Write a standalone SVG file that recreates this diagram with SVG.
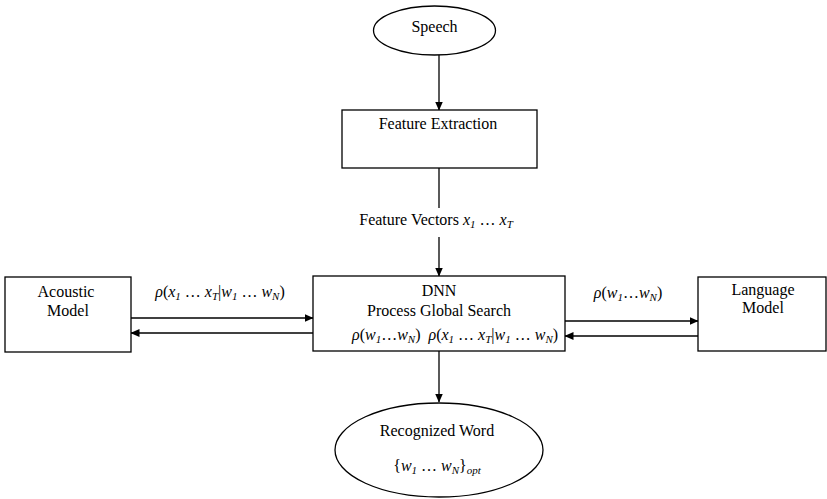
<svg xmlns="http://www.w3.org/2000/svg" width="827" height="499" viewBox="0 0 827 499">
  <style>
    .shape { fill: #ffffff; stroke: #000000; stroke-width: 1.3; }
    .edge { fill: none; stroke: #000000; stroke-width: 1.3; }
    .lbl { font-family: "Liberation Serif", "Times New Roman", serif; font-size: 16px; fill: #000000; text-anchor: middle; }
    .m { font-style: italic; }
    .s { font-size: 11px; font-style: italic; }
  </style>
  <defs>
    <marker id="arrow" markerWidth="9" markerHeight="8" refX="8.5" refY="4" orient="auto" markerUnits="userSpaceOnUse">
      <path d="M0,0 L9,4 L0,8 Z" fill="#000000"/>
    </marker>
  </defs>

  <rect width="827" height="499" fill="#ffffff"/>

  <!-- connectors -->
  <g id="connectors">
    <line class="edge" x1="439" y1="55" x2="439" y2="110" marker-end="url(#arrow)"/>
    <line class="edge" x1="439" y1="168" x2="439" y2="208"/>
    <line class="edge" x1="439" y1="237" x2="439" y2="276" marker-end="url(#arrow)"/>
    <line class="edge" x1="439" y1="351" x2="439" y2="402" marker-end="url(#arrow)"/>
    <line class="edge" x1="131" y1="318" x2="313" y2="318" marker-end="url(#arrow)"/>
    <line class="edge" x1="313" y1="333" x2="131" y2="333" marker-end="url(#arrow)"/>
    <line class="edge" x1="565" y1="321" x2="698" y2="321" marker-end="url(#arrow)"/>
    <line class="edge" x1="698" y1="336" x2="565" y2="336" marker-end="url(#arrow)"/>
  </g>

  <!-- edge labels -->
  <g id="edge-labels">
    <text class="lbl" x="436" y="225">Feature Vectors <tspan class="m">x</tspan><tspan class="s" dy="3">1</tspan><tspan dy="-3">&#160;…&#160;</tspan><tspan class="m">x</tspan><tspan class="s" dy="3">T</tspan></text>
    <text class="lbl" x="220" y="297"><tspan class="m">ρ</tspan>(<tspan class="m">x</tspan><tspan class="s" dy="3">1</tspan><tspan dy="-3">&#160;…&#160;</tspan><tspan class="m">x</tspan><tspan class="s" dy="3">T</tspan><tspan dy="-3">|</tspan><tspan class="m">w</tspan><tspan class="s" dy="3">1</tspan><tspan dy="-3">&#160;…&#160;</tspan><tspan class="m">w</tspan><tspan class="s" dy="3">N</tspan><tspan dy="-3">)</tspan></text>
    <text class="lbl" x="628" y="298"><tspan class="m">ρ</tspan>(<tspan class="m">w</tspan><tspan class="s" dy="3">1</tspan><tspan dy="-3">…</tspan><tspan class="m">w</tspan><tspan class="s" dy="3">N</tspan><tspan dy="-3">)</tspan></text>
  </g>

  <!-- nodes -->
  <g id="speech">
    <ellipse class="shape" cx="434.5" cy="30.5" rx="61" ry="24.5"/>
    <text class="lbl" x="434.5" y="32">Speech</text>
  </g>

  <g id="feature-extraction">
    <rect class="shape" x="342" y="110" width="195" height="58"/>
    <text class="lbl" x="438" y="129">Feature Extraction</text>
  </g>

  <g id="dnn">
    <rect class="shape" x="313" y="276" width="252" height="75"/>
    <text class="lbl" x="439" y="296">DNN</text>
    <text class="lbl" x="439" y="316">Process Global Search</text>
    <text class="lbl" x="455" y="340"><tspan class="m">ρ</tspan>(<tspan class="m">w</tspan><tspan class="s" dy="3">1</tspan><tspan dy="-3">…</tspan><tspan class="m">w</tspan><tspan class="s" dy="3">N</tspan><tspan dy="-3">)&#160;&#160;</tspan><tspan class="m">ρ</tspan>(<tspan class="m">x</tspan><tspan class="s" dy="3">1</tspan><tspan dy="-3">&#160;…&#160;</tspan><tspan class="m">x</tspan><tspan class="s" dy="3">T</tspan><tspan dy="-3">|</tspan><tspan class="m">w</tspan><tspan class="s" dy="3">1</tspan><tspan dy="-3">&#160;…&#160;</tspan><tspan class="m">w</tspan><tspan class="s" dy="3">N</tspan><tspan dy="-3">)</tspan></text>
  </g>

  <g id="acoustic-model">
    <rect class="shape" x="5" y="277" width="126" height="75"/>
    <text class="lbl" x="66" y="297">Acoustic</text>
    <text class="lbl" x="68" y="316">Model</text>
  </g>

  <g id="language-model">
    <rect class="shape" x="698" y="277" width="128" height="74"/>
    <text class="lbl" x="763" y="295">Language</text>
    <text class="lbl" x="763" y="313">Model</text>
  </g>

  <g id="recognized-word">
    <ellipse class="shape" cx="439" cy="450" rx="104" ry="47"/>
    <text class="lbl" x="437" y="436">Recognized Word</text>
    <text class="lbl" x="437" y="471">{<tspan class="m">w</tspan><tspan class="s" dy="3">1</tspan><tspan dy="-3">&#160;…&#160;</tspan><tspan class="m">w</tspan><tspan class="s" dy="3">N</tspan><tspan dy="-3">}</tspan><tspan class="s" dy="3">opt</tspan></text>
  </g>
</svg>
